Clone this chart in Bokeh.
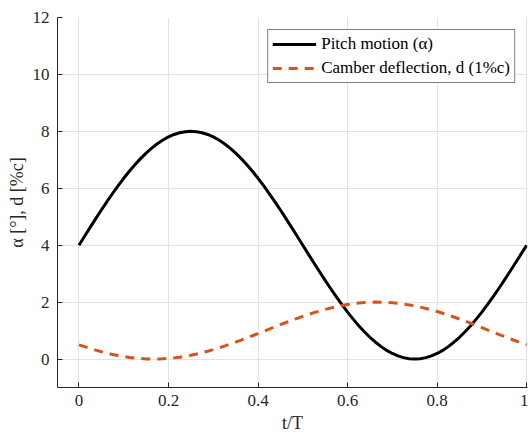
from bokeh.plotting import figure
from bokeh.embed import file_html
from bokeh.resources import INLINE
from bokeh.models import Legend, LegendItem, FixedTicker

t = [0.0, 0.0125, 0.025, 0.0375, 0.05, 0.0625, 0.075, 0.0875, 0.1, 0.1125,
     0.125, 0.1375, 0.15, 0.1625, 0.175, 0.1875, 0.2, 0.2125, 0.225, 0.2375,
     0.25, 0.2625, 0.275, 0.2875, 0.3, 0.3125, 0.325, 0.3375, 0.35, 0.3625,
     0.375, 0.3875, 0.4, 0.4125, 0.425, 0.4375, 0.45, 0.4625, 0.475, 0.4875,
     0.5, 0.5125, 0.525, 0.5375, 0.55, 0.5625, 0.575, 0.5875, 0.6, 0.6125,
     0.625, 0.6375, 0.65, 0.6625, 0.675, 0.6875, 0.7, 0.7125, 0.725, 0.7375,
     0.75, 0.7625, 0.775, 0.7875, 0.8, 0.8125, 0.825, 0.8375, 0.85, 0.8625,
     0.875, 0.8875, 0.9, 0.9125, 0.925, 0.9375, 0.95, 0.9625, 0.975, 0.9875, 1.0]
pitch = [4.000, 4.314, 4.626, 4.934, 5.236, 5.531, 5.816, 6.090, 6.351, 6.598,
         6.828, 7.042, 7.236, 7.410, 7.564, 7.696, 7.804, 7.890, 7.951, 7.988,
         8.000, 7.988, 7.951, 7.890, 7.804, 7.696, 7.564, 7.410, 7.236, 7.042,
         6.828, 6.598, 6.351, 6.090, 5.816, 5.531, 5.236, 4.934, 4.626, 4.314,
         4.000, 3.686, 3.374, 3.066, 2.764, 2.469, 2.184, 1.910, 1.649, 1.402,
         1.172, 0.958, 0.764, 0.590, 0.436, 0.304, 0.196, 0.110, 0.049, 0.012,
         0.000, 0.012, 0.049, 0.110, 0.196, 0.304, 0.436, 0.590, 0.764, 0.958,
         1.172, 1.402, 1.649, 1.910, 2.184, 2.469, 2.764, 3.066, 3.374, 3.686, 4.000]
camber = [0.500, 0.434, 0.371, 0.312, 0.257, 0.207, 0.161, 0.121, 0.086, 0.057,
          0.034, 0.017, 0.005, 0.000, 0.001, 0.009, 0.022, 0.041, 0.066, 0.097,
          0.134, 0.176, 0.223, 0.275, 0.331, 0.391, 0.455, 0.523, 0.593, 0.666,
          0.741, 0.818, 0.895, 0.974, 1.052, 1.131, 1.208, 1.284, 1.358, 1.431,
          1.500, 1.566, 1.629, 1.688, 1.743, 1.793, 1.839, 1.879, 1.914, 1.943,
          1.966, 1.983, 1.995, 2.000, 1.999, 1.991, 1.978, 1.959, 1.934, 1.903,
          1.866, 1.824, 1.777, 1.725, 1.669, 1.609, 1.545, 1.477, 1.407, 1.334,
          1.259, 1.182, 1.105, 1.026, 0.948, 0.869, 0.792, 0.716, 0.642, 0.569, 0.500]
x_ticks = [0, 0.2, 0.4, 0.6, 0.8, 1]
y_ticks = [0, 2, 4, 6, 8, 10, 12]

FONT = "Times New Roman"
DARK = "#262626"

p = figure(width=528, height=436, x_range=(-0.048, 1.002), y_range=(-1, 12),
           output_backend="svg", toolbar_location=None,
           min_border_left=57, min_border_right=1, min_border_top=17, min_border_bottom=49)
p.outline_line_color = None
p.background_fill_color = "white"

r1 = p.line(t, pitch, line_color="black", line_width=3, line_join="round")
r2 = p.line(t, camber, line_color="#D95319", line_width=3, line_dash="9 7")

p.xaxis.ticker = FixedTicker(ticks=x_ticks)
p.yaxis.ticker = FixedTicker(ticks=y_ticks)
p.xaxis.major_label_overrides = {0: "0", 0.2: "0.2", 0.4: "0.4", 0.6: "0.6", 0.8: "0.8", 1: "1"}

for ax in (p.xaxis[0], p.yaxis[0]):
    ax.axis_line_color = DARK
    ax.axis_line_width = 1
    ax.major_tick_line_color = DARK
    ax.major_tick_in = 5
    ax.major_tick_out = 0
    ax.minor_tick_line_color = None
    ax.major_label_text_font = FONT
    ax.major_label_text_font_size = "17px"
    ax.major_label_text_color = DARK
    ax.axis_label_text_font = FONT
    ax.axis_label_text_font_size = "18px"
    ax.axis_label_text_font_style = "normal"
    ax.axis_label_text_color = DARK

p.xaxis.axis_label = "t/T"
p.yaxis.axis_label = "α [°], d [%c]"
p.xaxis.major_label_standoff = 7
p.yaxis.major_label_standoff = 8
p.xaxis.axis_label_standoff = 4
p.yaxis.axis_label_standoff = 3

p.xgrid.grid_line_color = "#e3e3e3"
p.ygrid.grid_line_color = "#e3e3e3"

legend = Legend(items=[LegendItem(label="Pitch motion (α)", renderers=[r1]),
                       LegendItem(label="Camber deflection, d (1%c)", renderers=[r2])],
                location="top_right", margin=12)
legend.label_text_font = FONT
legend.label_text_font_size = "17px"
legend.label_text_color = "black"
legend.border_line_color = "black"
legend.border_line_width = 1
legend.background_fill_color = "white"
legend.background_fill_alpha = 1
legend.glyph_width = 44
legend.glyph_height = 18
legend.label_height = 18
legend.label_standoff = 5
legend.spacing = 4
legend.padding = 4
p.add_layout(legend)

open("out.html", "w").write(file_html(p, INLINE))
